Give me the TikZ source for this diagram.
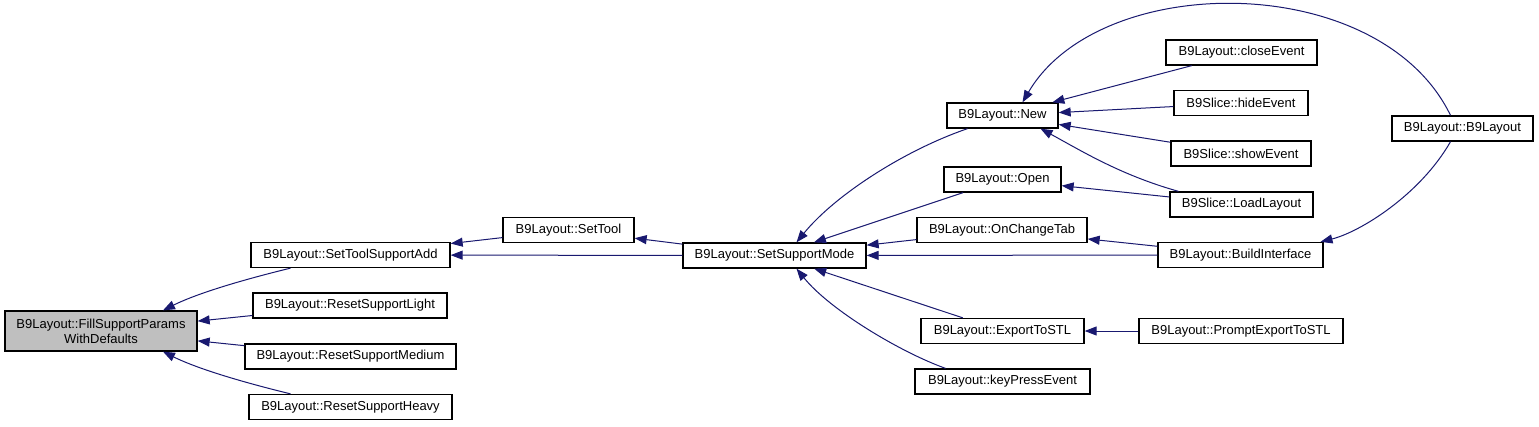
\documentclass[tikz,border=0pt]{standalone}
\usepackage{fontspec}
\setmainfont{Liberation Sans}
\usepackage{xcolor}
\usepackage{tikz}
\usetikzlibrary{arrows.meta}
\definecolor{edgeblue}{RGB}{25,25,112}
\definecolor{rootgray}{RGB}{191,191,191}

\begin{document}
\begin{tikzpicture}[
    x=1pt, y=-1pt,
    every node/.style={font=\fontsize{13}{15}\selectfont, align=center, inner sep=0pt},
    fnbox/.style={rectangle, draw=black, fill=white, line width=1.3pt, minimum height=25pt},
    rootbox/.style={fnbox, fill=rootgray, minimum height=40pt},
    arr/.style={-{Triangle[length=12pt,width=9pt]}, line width=1pt, draw=edgeblue}
]
\fill[white] (0,0) rectangle (1539,426);
\useasboundingbox (0,0) rectangle (1539,426);

\node[rootbox, minimum width=192pt] (fill) at (101,331) {B9Layout::FillSupportParams\\WithDefaults};
\node[fnbox, minimum width=199pt] (stsa) at (350.5,255) {B9Layout::SetToolSupportAdd};
\node[fnbox, minimum width=194pt] (rsl) at (350,305.5) {B9Layout::ResetSupportLight};
\node[fnbox, minimum width=211pt] (rsm) at (350.5,356.5) {B9Layout::ResetSupportMedium};
\node[fnbox, minimum width=203pt] (rsh) at (350.5,407) {B9Layout::ResetSupportHeavy};
\node[fnbox, minimum width=131pt] (settool) at (568.5,230) {B9Layout::SetTool};
\node[fnbox, minimum width=183pt] (ssm) at (774.5,255.5) {B9Layout::SetSupportMode};
\node[fnbox, minimum width=111pt] (new) at (1002.5,115.5) {B9Layout::New};
\node[fnbox, minimum width=117pt] (open) at (1002.5,179.5) {B9Layout::Open};
\node[fnbox, minimum width=170pt] (oct) at (1002,230) {B9Layout::OnChangeTab};
\node[fnbox, minimum width=163pt] (export) at (1002.5,331) {B9Layout::ExportToSTL};
\node[fnbox, minimum width=175pt] (keypress) at (1002.5,381.5) {B9Layout::keyPressEvent};
\node[fnbox, minimum width=151pt] (close) at (1241.5,52.5) {B9Layout::closeEvent};
\node[fnbox, minimum width=134pt] (hide) at (1241,103) {B9Slice::hideEvent};
\node[fnbox, minimum width=140pt] (show) at (1241,153.5) {B9Slice::showEvent};
\node[fnbox, minimum width=143pt] (load) at (1241.5,204.5) {B9Slice::LoadLayout};
\node[fnbox, minimum width=165pt] (build) at (1240.5,255) {B9Layout::BuildInterface};
\node[fnbox, minimum width=204pt] (prompt) at (1241,331) {B9Layout::PromptExportToSTL};
\node[fnbox, minimum width=141pt] (b9) at (1462.5,128.5) {B9Layout::B9Layout};

% callers of FillSupportParamsWithDefaults
\draw[arr] ([xshift=-60pt]stsa.south) .. controls (250,278) and (200,292) .. ([xshift=62pt]fill.north);
\draw[arr] (rsl) -- (fill);
\draw[arr] (rsm) -- (fill);
\draw[arr] ([xshift=-60pt]rsh.north) .. controls (250,384) and (200,370) .. ([xshift=62pt]fill.south);

% second column
\draw[arr] (settool) -- (stsa);
\draw[arr] (ssm) -- (stsa);
\draw[arr] (ssm) -- (settool);

% callers of SetSupportMode
\draw[arr] ([xshift=-35pt]new.south) .. controls (905,150) and (835,195) .. ([xshift=22pt]ssm.north);
\draw[arr] (open) -- (ssm);
\draw[arr] (oct) -- (ssm);
\draw[arr] (build) -- (ssm);
\draw[arr] (export) -- (ssm);
\draw[arr] ([xshift=-57pt]keypress.north) .. controls (900,352) and (830,310) .. ([xshift=22pt]ssm.south);

% callers of New, Open, OnChangeTab, ExportToSTL
\draw[arr] (close) -- (new);
\draw[arr] (hide) -- (new);
\draw[arr] (show) -- (new);
\draw[arr] ([xshift=-63pt]load.north) .. controls (1120,175) and (1080,150) .. ([xshift=38pt]new.south);
\draw[arr] (load) -- (open);
\draw[arr] (build) -- (oct);
\draw[arr] (prompt) -- (export);

% B9Layout constructor
\draw[arr] ([xshift=-12pt]b9.north) .. controls (1380,-30) and (1100,-30) .. ([xshift=20pt]new.north);
\draw[arr] ([xshift=-12pt]b9.south) .. controls (1420,195) and (1360,232) .. ([xshift=80pt]build.north);

\end{tikzpicture}
\end{document}
